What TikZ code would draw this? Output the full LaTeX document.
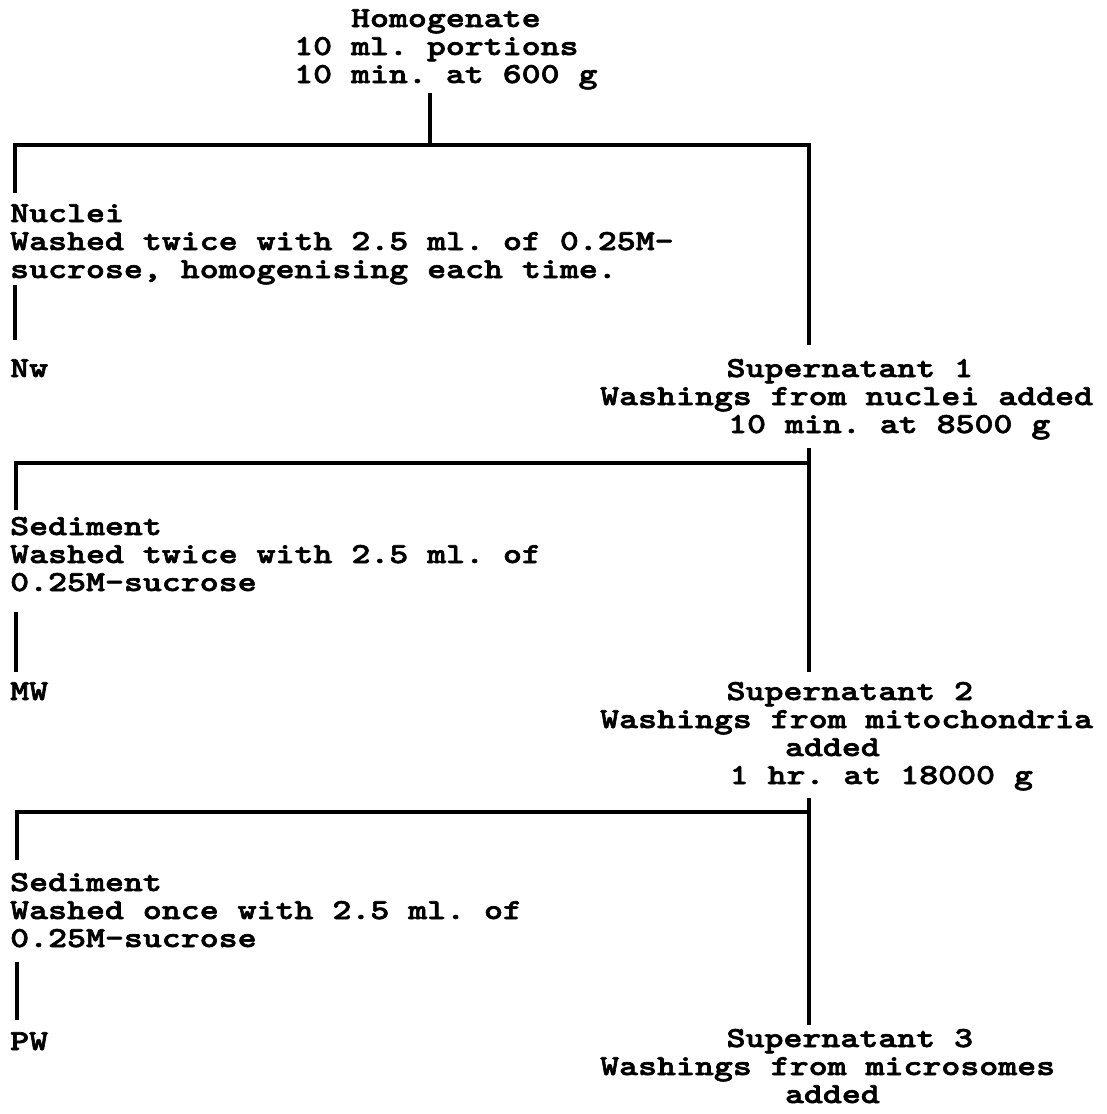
\documentclass[tikz,border=0pt]{standalone}
\usepackage{fontspec}
\newfontfamily\twff{lmmonolt10-bold.otf}[FakeStretch=1.245,FakeBold=2.2]
\newcommand\twfont{\twff\fontsize{29}{28}\selectfont}
\newcommand\twspace{\spaceskip=\fontcharwd\font`0\relax\xspaceskip=\spaceskip}
\newcommand\ind[1]{\hspace*{#1\fontcharwd\font`0}}
\begin{document}
\frenchspacing
\lineskiplimit=-100pt
\begin{tikzpicture}[x=1pt,y=-1pt,
  txt/.style={anchor=base west, inner sep=0pt, align=left, text width=900pt,
    font=\twfont, execute at begin node=\twspace},
  rule/.style={line width=3.5pt, line cap=butt}]
\useasboundingbox[fill=white] (0,0) rectangle (1106,1114);

% text blocks
\node[txt] (top) at (294,27) {\ind{3}Homogenate\\10 ml. portions\\10 min. at 600 g};
\node[txt] (nuclei) at (10,222) {Nuclei\\Washed twice with 2.5 ml. of 0.25M-\\sucrose, homogenising each time.};
\node[txt] (nw) at (10,377) {Nw};
\node[txt] (sup1) at (600,377) {\ind{6.67}Supernatant 1\\Washings from nuclei added\\\ind{6.75}10 min. at 8500 g};
\node[txt] (sed1) at (10,535) {Sediment\\Washed twice with 2.5 ml. of\\0.25M-sucrose};
\node[txt] (mw) at (10,700) {MW};
\node[txt] (sup2) at (600,700) {\ind{6.67}Supernatant 2\\Washings from mitochondria\\\ind{9.75}added\\\ind{6.83}1 hr. at 18000 g};
\node[txt] (sed2) at (10,891) {Sediment\\Washed once with 2.5 ml. of\\0.25M-sucrose};
\node[txt] (pw) at (10,1050) {PW};
\node[txt] (sup3) at (600,1047) {\ind{6.67}Supernatant 3\\Washings from microsomes\\\ind{9.75}added};

% junction coordinates
\coordinate (t0) at (430,93);
\coordinate (j1) at (430,145);
\coordinate (l1) at (15,193);
\coordinate (r1) at (809,345);
\coordinate (n1a) at (15,285);
\coordinate (n1b) at (15,340);

\coordinate (s1top) at (809,448);
\coordinate (s1bot) at (809,672);
\coordinate (h2) at (809,463);
\coordinate (l2) at (16,510);
\coordinate (n2a) at (16,612);
\coordinate (n2b) at (16,672);

\coordinate (s2top) at (809,798);
\coordinate (s2bot) at (809,1025);
\coordinate (h3) at (809,812);
\coordinate (l3) at (17,860);
\coordinate (n3a) at (17,962);
\coordinate (n3b) at (17,1020);

% bracket 1
\draw[rule] (t0) -- (j1);
\draw[rule] (l1) |- (j1) -| (r1);
\draw[rule] (n1a) -- (n1b);
% bracket 2
\draw[rule] (s1top) -- (s1bot);
\draw[rule] (l2) |- (h2);
\draw[rule] (n2a) -- (n2b);
% bracket 3
\draw[rule] (s2top) -- (s2bot);
\draw[rule] (l3) |- (h3);
\draw[rule] (n3a) -- (n3b);
\end{tikzpicture}
\end{document}
